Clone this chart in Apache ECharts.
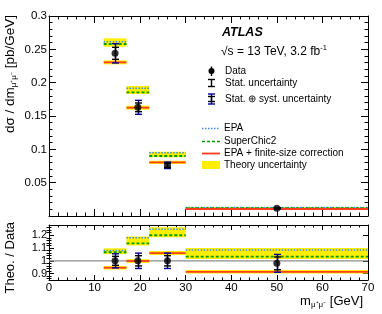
<!DOCTYPE html>
<html>
<head>
<meta charset="utf-8">
<script src="https://cdn.jsdelivr.net/npm/echarts@6/dist/echarts.min.js"></script>
<style>html,body{margin:0;padding:0;background:#fff}#c{width:382px;height:314px}</style>
</head>
<body>
<div id="c"></div>
<script>
// ---- data ----
const binLo = [12, 17, 22, 30];
const binHi = [17, 22, 30, 70];
const dataX = [14.5, 19.5, 26, 50];
const dataY = [0.244, 0.163, 0.076, 0.0115];
const statErr = [0.009, 0.0065, 0.003, 0.0007];
const totErr = [0.0145, 0.0105, 0.0048, 0.0010];
const epaY = [0.2615, 0.1915, 0.095, 0.0126];
const superChicY = [0.258, 0.1855, 0.090, 0.0119];
const finiteY = [0.2305, 0.1625, 0.0805, 0.0105];
const theoBandLo = [0.254, 0.183, 0.088, 0.0113];
const theoBandHi = [0.2665, 0.195, 0.0965, 0.0130];
const finBandLo = [0.2275, 0.1595, 0.0780, 0.0095];
const finBandHi = [0.2335, 0.1655, 0.0830, 0.0115];

const ratioY = [1.0, 1.0, 1.0, 0.98];
const ratioStat = [0.035, 0.04, 0.04, 0.05];
const ratioTot = [0.055, 0.06, 0.06, 0.07];
const ratioEpa = [1.08, 1.18, 1.246, 1.085];
const ratioSC = [1.067, 1.136, 1.2, 1.033];
const ratioFin = [0.946, 0.998, 1.06, 0.913];
const ratioBandLo = [1.052, 1.12, 1.185, 1.015];
const ratioBandHi = [1.098, 1.19, 1.262, 1.10];
const ratioFinLo = [0.932, 0.983, 1.045, 0.90];
const ratioFinHi = [0.960, 1.013, 1.077, 0.929];
const refLine = [1];

const xTicks = [0, 10, 20, 30, 40, 50, 60, 70];
const ratioTicks = [0.9, 1.0, 1.1, 1.2];
const ratioMinor = [0.86, 0.88, 0.92, 0.94, 0.96, 0.98, 1.02, 1.04, 1.06, 1.08, 1.12, 1.14, 1.16, 1.18, 1.22, 1.24, 1.26];

// ---- styles ----
const FONT = 'Liberation Sans';
const YEL = '#ffee00';
const BLUE = '#3d8bff';
const GREEN = '#00a000';
const RED = '#ff3c1e';
const NAVY = '#000099';

function bandSeries(xi, yi, lo, hi, color) {
  return {
    type: 'custom', xAxisIndex: xi, yAxisIndex: yi, clip: true, silent: true,
    data: binLo.map((b, i) => [b, binHi[i], lo[i], hi[i]]),
    renderItem: (p, api) => {
      const a = api.coord([api.value(0), api.value(3)]);
      const b = api.coord([api.value(1), api.value(2)]);
      return {type: 'rect', shape: {x: a[0], y: a[1], width: b[0] - a[0], height: b[1] - a[1]}, style: {fill: color}};
    }
  };
}
function segSeries(xi, yi, vals, color, width, dash) {
  return {
    type: 'custom', xAxisIndex: xi, yAxisIndex: yi, clip: true, silent: true,
    data: binLo.map((b, i) => [b, binHi[i], vals[i]]),
    renderItem: (p, api) => {
      const a = api.coord([api.value(0), api.value(2)]);
      const b = api.coord([api.value(1), api.value(2)]);
      return {type: 'line', shape: {x1: a[0], y1: a[1], x2: b[0], y2: b[1]},
        style: {stroke: color, lineWidth: width, lineDash: dash || null}};
    }
  };
}
function refSeries(xi, yi) {
  return {
    type: 'custom', xAxisIndex: xi, yAxisIndex: yi, clip: true, silent: true,
    data: refLine.map(v => [xTicks[0], xTicks[xTicks.length - 1], v]),
    renderItem: (p, api) => {
      const a = api.coord([api.value(0), api.value(2)]);
      const b = api.coord([api.value(1), api.value(2)]);
      return {type: 'line', shape: {x1: a[0], y1: a[1], x2: b[0], y2: b[1]}, style: {stroke: '#8c8c8c', lineWidth: 1.2}};
    }
  };
}
function errSeries(xi, yi, ys, errs, color, cap) {
  return {
    type: 'custom', xAxisIndex: xi, yAxisIndex: yi, clip: false, silent: true,
    data: dataX.map((x, i) => [x, ys[i], errs[i]]),
    renderItem: (p, api) => {
      const top = api.coord([api.value(0), api.value(1) + api.value(2)]);
      const bot = api.coord([api.value(0), api.value(1) - api.value(2)]);
      const x = Math.round(top[0]) + 0.5;
      const st = {stroke: color, lineWidth: 1.4};
      return {type: 'group', children: [
        {type: 'line', shape: {x1: x, y1: top[1], x2: x, y2: bot[1]}, style: st},
        {type: 'line', shape: {x1: x - cap, y1: top[1], x2: x + cap, y2: top[1]}, style: st},
        {type: 'line', shape: {x1: x - cap, y1: bot[1], x2: x + cap, y2: bot[1]}, style: st}
      ]};
    }
  };
}
function pointSeries(xi, yi, ys) {
  return {
    type: 'scatter', xAxisIndex: xi, yAxisIndex: yi, silent: true,
    symbol: 'circle', symbolSize: 7, itemStyle: {color: '#000'},
    data: dataX.map((x, i) => [x, ys[i]])
  };
}

const axLine = {show: true, onZero: false, lineStyle: {color: '#000', width: 1}};
function xAxis(grid, pos, labels, tl, ml) {
  return {
    type: 'value', gridIndex: grid, position: pos, min: xTicks[0], max: xTicks[xTicks.length - 1], interval: 10,
    axisLine: axLine, splitLine: {show: false},
    axisTick: {show: true, inside: true, length: tl, lineStyle: {color: '#000'}},
    minorTick: {show: true, splitNumber: 5, length: ml, lineStyle: {color: '#000'}},
    axisLabel: {show: labels, color: '#000', fontSize: 11.5, fontFamily: FONT, margin: 2}
  };
}

const option = {
  animation: false,
  backgroundColor: '#fff',
  grid: [
    {left: 49, right: 14, top: 16, height: 200},
    {left: 49, right: 14, top: 225, height: 55}
  ],
  xAxis: [
    xAxis(0, 'bottom', false, 7, 3.5),
    xAxis(0, 'top', false, 7, 3.5),
    xAxis(1, 'bottom', true, 5, 2.5),
    xAxis(1, 'top', false, 5, 2.5)
  ],
  yAxis: [
    {type: 'value', gridIndex: 0, position: 'left', min: 0, max: 0.3, interval: 0.05,
     axisLine: axLine, splitLine: {show: false},
     axisTick: {show: true, inside: true, length: 7, lineStyle: {color: '#000'}},
     minorTick: {show: true, splitNumber: 5, length: 3.5, lineStyle: {color: '#000'}},
     axisLabel: {color: '#000', fontSize: 11.5, fontFamily: FONT, margin: 2, showMinLabel: false}},
    {type: 'value', gridIndex: 0, position: 'right', min: 0, max: 0.3, interval: 0.05,
     axisLine: axLine, splitLine: {show: false},
     axisTick: {show: true, inside: true, length: 7, lineStyle: {color: '#000'}},
     minorTick: {show: true, splitNumber: 5, length: 3.5, lineStyle: {color: '#000'}},
     axisLabel: {show: false}},
    {type: 'value', gridIndex: 1, position: 'left', min: 0.85, max: 1.28,
     axisLine: axLine, splitLine: {show: false},
     axisTick: {show: true, inside: true, length: 5, customValues: ratioTicks, lineStyle: {color: '#000'}},
     axisLabel: {color: '#000', fontSize: 11, fontFamily: FONT, margin: 2, customValues: ratioTicks}},
    {type: 'value', gridIndex: 1, position: 'right', min: 0.85, max: 1.28,
     axisLine: axLine, splitLine: {show: false},
     axisTick: {show: true, inside: true, length: 5, customValues: ratioTicks, lineStyle: {color: '#000'}},
     axisLabel: {show: false}},
    {type: 'value', gridIndex: 1, position: 'left', min: 0.85, max: 1.28,
     axisLine: {show: false}, splitLine: {show: false},
     axisTick: {show: true, inside: true, length: 2.5, customValues: ratioMinor, lineStyle: {color: '#000'}},
     axisLabel: {show: false}},
    {type: 'value', gridIndex: 1, position: 'right', min: 0.85, max: 1.28,
     axisLine: {show: false}, splitLine: {show: false},
     axisTick: {show: true, inside: true, length: 2.5, customValues: ratioMinor, lineStyle: {color: '#000'}},
     axisLabel: {show: false}}
  ],
  series: [
    bandSeries(0, 0, theoBandLo, theoBandHi, YEL),
    bandSeries(0, 0, finBandLo, finBandHi, YEL),
    segSeries(0, 0, epaY, BLUE, 1.5, [1.5, 1.5]),
    segSeries(0, 0, superChicY, GREEN, 1.8, [3, 2]),
    segSeries(0, 0, finiteY, RED, 1.8),
    errSeries(0, 0, dataY, totErr, NAVY, 3.5),
    errSeries(0, 0, dataY, statErr, '#000', 3.5),
    pointSeries(0, 0, dataY),

    bandSeries(2, 2, ratioBandLo, ratioBandHi, YEL),
    bandSeries(2, 2, ratioFinLo, ratioFinHi, YEL),
    refSeries(2, 2),
    segSeries(2, 2, ratioEpa, BLUE, 1.5, [1.5, 1.5]),
    segSeries(2, 2, ratioSC, GREEN, 1.8, [3, 2]),
    segSeries(2, 2, ratioFin, RED, 1.8),
    errSeries(2, 2, ratioY, ratioTot, NAVY, 3.5),
    errSeries(2, 2, ratioY, ratioStat, '#000', 3.5),
    pointSeries(2, 2, ratioY)
  ],
  graphic: [
    // axis titles
    {type: 'text', x: 10, y: 15, rotation: Math.PI / 2, silent: true,
     style: {text: '{n|dσ / dm}{s|μ⁺μ⁻}{n| [pb/GeV]}', align: 'right', verticalAlign: 'middle',
       rich: {n: {fontSize: 13.5, fontFamily: FONT, fill: '#000', lineHeight: 16},
              s: {fontSize: 8, fontFamily: FONT, fill: '#000', lineHeight: 8, verticalAlign: 'bottom'}}}},
    {type: 'text', x: 10, y: 222, rotation: Math.PI / 2, silent: true,
     style: {text: 'Theo. / Data', align: 'right', verticalAlign: 'middle', fontSize: 13, fontFamily: FONT, fill: '#000'}},
    {type: 'text', x: 363, y: 301, silent: true,
     style: {text: '{n|m}{s|μ⁺μ⁻}{n| [GeV]}', align: 'right', verticalAlign: 'middle',
       rich: {n: {fontSize: 13, fontFamily: FONT, fill: '#000', lineHeight: 16},
              s: {fontSize: 8, fontFamily: FONT, fill: '#000', lineHeight: 8, verticalAlign: 'bottom'}}}},
    // ATLAS label
    {type: 'text', x: 222, y: 33, silent: true,
     style: {text: 'ATLAS', verticalAlign: 'middle', fontSize: 12.5, fontWeight: 'bold', fontStyle: 'italic', fontFamily: FONT, fill: '#000'}},
    {type: 'text', x: 221, y: 52, silent: true,
     style: {text: '{n|√s = 13 TeV, 3.2 fb}{p|-1}', verticalAlign: 'middle',
       rich: {n: {fontSize: 12, fontFamily: FONT, fill: '#000', lineHeight: 16},
              p: {fontSize: 7.5, fontFamily: FONT, fill: '#000', lineHeight: 8, verticalAlign: 'top'}}}},
    // legend: Data
    {type: 'line', silent: true, shape: {x1: 211.5, y1: 66.5, x2: 211.5, y2: 76}, style: {stroke: '#000', lineWidth: 1.4}},
    {type: 'circle', silent: true, shape: {cx: 211.5, cy: 71, r: 3}, style: {fill: '#000'}},
    // legend: Stat
    {type: 'line', silent: true, shape: {x1: 211.5, y1: 79.5, x2: 211.5, y2: 86.5}, style: {stroke: '#000', lineWidth: 1.4}},
    {type: 'line', silent: true, shape: {x1: 208, y1: 79.5, x2: 215, y2: 79.5}, style: {stroke: '#000', lineWidth: 1.4}},
    {type: 'line', silent: true, shape: {x1: 208, y1: 86.5, x2: 215, y2: 86.5}, style: {stroke: '#000', lineWidth: 1.4}},
    // legend: Stat+syst
    {type: 'line', silent: true, shape: {x1: 211.5, y1: 94, x2: 211.5, y2: 104}, style: {stroke: NAVY, lineWidth: 1.4}},
    {type: 'line', silent: true, shape: {x1: 208, y1: 94, x2: 215, y2: 94}, style: {stroke: NAVY, lineWidth: 1.4}},
    {type: 'line', silent: true, shape: {x1: 208, y1: 104, x2: 215, y2: 104}, style: {stroke: NAVY, lineWidth: 1.4}},
    {type: 'line', silent: true, shape: {x1: 211.5, y1: 96.5, x2: 211.5, y2: 101.5}, style: {stroke: '#000', lineWidth: 1.4}},
    {type: 'line', silent: true, shape: {x1: 208, y1: 96.5, x2: 215, y2: 96.5}, style: {stroke: '#000', lineWidth: 1.4}},
    {type: 'line', silent: true, shape: {x1: 208, y1: 101.5, x2: 215, y2: 101.5}, style: {stroke: '#000', lineWidth: 1.4}},
    {type: 'text', x: 225, y: 71, silent: true, style: {text: 'Data', verticalAlign: 'middle', fontSize: 10, fontFamily: FONT, fill: '#000'}},
    {type: 'text', x: 225, y: 83, silent: true, style: {text: 'Stat. uncertainty', verticalAlign: 'middle', fontSize: 10, fontFamily: FONT, fill: '#000'}},
    {type: 'text', x: 225, y: 99, silent: true, style: {text: 'Stat. ⊕ syst. uncertainty', verticalAlign: 'middle', fontSize: 10, fontFamily: FONT, fill: '#000'}},
    // legend: theory
    {type: 'line', silent: true, shape: {x1: 202, y1: 128.5, x2: 220, y2: 128.5}, style: {stroke: BLUE, lineWidth: 1.5, lineDash: [1.5, 1.5]}},
    {type: 'line', silent: true, shape: {x1: 202, y1: 141.5, x2: 220, y2: 141.5}, style: {stroke: GREEN, lineWidth: 1.5, lineDash: [3, 2]}},
    {type: 'line', silent: true, shape: {x1: 202, y1: 153.5, x2: 220, y2: 153.5}, style: {stroke: RED, lineWidth: 1.8}},
    {type: 'rect', silent: true, shape: {x: 202, y: 161, width: 18, height: 8}, style: {fill: YEL}},
    {type: 'text', x: 224, y: 128.5, silent: true, style: {text: 'EPA', verticalAlign: 'middle', fontSize: 10, fontFamily: FONT, fill: '#000'}},
    {type: 'text', x: 224, y: 141.5, silent: true, style: {text: 'SuperChic2', verticalAlign: 'middle', fontSize: 10, fontFamily: FONT, fill: '#000'}},
    {type: 'text', x: 224, y: 153.5, silent: true, style: {text: 'EPA + finite-size correction', verticalAlign: 'middle', fontSize: 10, fontFamily: FONT, fill: '#000'}},
    {type: 'text', x: 224, y: 165, silent: true, style: {text: 'Theory uncertainty', verticalAlign: 'middle', fontSize: 10, fontFamily: FONT, fill: '#000'}}
  ]
};
const chart = echarts.init(document.getElementById('c'), null, {renderer: 'canvas'});
chart.setOption(option);
</script>
</body>
</html>
